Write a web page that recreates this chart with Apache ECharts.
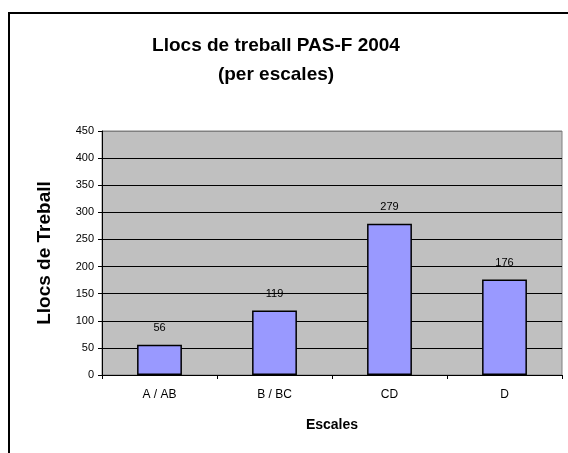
<!DOCTYPE html>
<html>
<head>
<meta charset="utf-8">
<script src="https://cdn.jsdelivr.net/npm/echarts@6/dist/echarts.min.js"></script>
<style>
  html, body { margin: 0; padding: 0; background: #fff; }
  #frame { position: absolute; left: 8px; top: 12px; width: 600px; height: 500px; border: 2px solid #000; box-sizing: border-box; }
  #chart { position: absolute; left: 0; top: 0; width: 568px; height: 453px; }
</style>
</head>
<body>
<div id="frame"></div>
<div id="chart"></div>
<script>
// chart data
var categories = ['A / AB', 'B / BC', 'CD', 'D'];
var llocs = [56, 119, 279, 176];
var yTicks = [0, 50, 100, 150, 200, 250, 300, 350, 400, 450];

$font = 'Arial, "Liberation Sans", sans-serif';

var myChart = echarts.init(document.getElementById('chart'), null, { renderer: 'canvas' });

// gridlines black, top one is the grey plot border
var gridColors = yTicks.map(function (v, i) { return i === yTicks.length - 1 ? '#808080' : '#000'; });

option = {
    animation: false,
    title: {
        text: 'Llocs de treball PAS-F 2004\n(per escales)',
        left: 271,
        top: 26,
        textAlign: 'center',
        textStyle: {
            fontFamily: $font,
            fontSize: 19,
            fontWeight: 'bold',
            color: '#000',
            lineHeight: 29
        }
    },
    grid: {
        left: 102,
        top: 131,
        right: 6,
        bottom: 78,
        show: true,
        backgroundColor: '#c0c0c0',
        borderColor: '#808080',
        borderWidth: 1
    },
    xAxis: {
        type: 'category',
        data: categories,
        name: 'Escales',
        nameLocation: 'middle',
        nameGap: 43,
        nameTextStyle: {
            fontFamily: $font,
            fontSize: 14,
            fontWeight: 'bold',
            color: '#000'
        },
        axisLine: { lineStyle: { color: '#000', width: 1 } },
        axisTick: { show: true, length: 4, lineStyle: { color: '#000' } },
        axisLabel: {
            margin: 14,
            fontFamily: $font,
            fontSize: 12,
            color: '#000'
        }
    },
    yAxis: {
        type: 'value',
        min: 0,
        max: 450,
        interval: 50,
        name: 'Llocs de Treball',
        nameLocation: 'middle',
        nameGap: 48,
        nameTextStyle: {
            fontFamily: $font,
            fontSize: 19,
            fontWeight: 'bold',
            color: '#000'
        },
        axisLine: { show: true, lineStyle: { color: '#000', width: 1 } },
        axisTick: { show: true, length: 4, lineStyle: { color: '#000' } },
        axisLabel: {
            margin: 8,
            fontFamily: $font,
            fontSize: 11,
            color: '#000'
        },
        splitLine: { show: true, lineStyle: { color: gridColors, width: 1 } }
    },
    series: [{
        name: 'Llocs de treball',
        type: 'bar',
        data: llocs,
        barWidth: '39%',
        itemStyle: {
            color: '#9999ff',
            borderColor: '#000',
            borderWidth: 1.5
        },
        label: {
            show: true,
            position: 'top',
            distance: 11,
            fontFamily: $font,
            fontSize: 11,
            color: '#000'
        }
    }]
};
myChart.setOption(option);
</script>
</body>
</html>
